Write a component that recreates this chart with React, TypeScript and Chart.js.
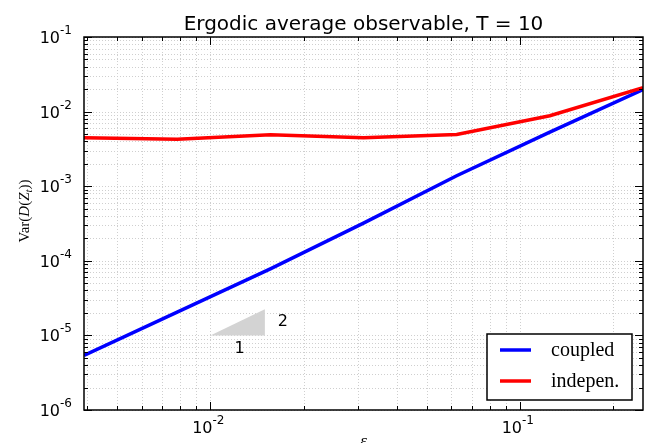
import React, { useEffect, useRef } from "react";
import { Chart, registerables } from "chart.js";

Chart.register(...registerables);

// ---- data ----
const epsilons = [0.00390625, 0.0078125, 0.015625, 0.03125, 0.0625, 0.125, 0.25];
const coupledVar = [5.4e-6, 2.05e-5, 7.8e-5, 3.2e-4, 1.38e-3, 5.3e-3, 1.97e-2];
const indepVar = [4.45e-3, 4.25e-3, 4.9e-3, 4.45e-3, 4.95e-3, 8.8e-3, 2.1e-2];
const seriesLabels = ["coupled", "indepen."];
const seriesColors = ["#0000ff", "#ff0000"];
const triangleX = [0.01, 0.015, 0.015, 0.01];
const triangleY = [1e-5, 1e-5, 2.25e-5, 1e-5];
const triangleLabels = ["1", "2"];
const xMajorExps = [-2, -1];
const yMajorExps = [-6, -5, -4, -3, -2, -1];
const yRange = [1e-6, 1e-1];
const titleText = "Ergodic average observable, T = 10";

const SANS = '"DejaVu Sans"';
const SERIF = '"Liberation Serif"';

function gridValues(min: number, max: number): number[] {
  const out: number[] = [];
  for (let e = -9; e <= 1; e++) {
    for (let m = 1; m <= 9; m++) {
      const v = m * Math.pow(10, e);
      if (v >= min * 0.9999 && v <= max * 1.0001) out.push(v);
    }
  }
  return out;
}

function drawPow(ctx: CanvasRenderingContext2D, exp: number, x: number, baseline: number, align: "right" | "center") {
  const base = "10";
  const sup = "-" + Math.abs(exp);
  ctx.font = `16px ${SANS}`;
  const wb = ctx.measureText(base).width;
  ctx.font = `12px ${SANS}`;
  const ws = ctx.measureText(sup).width;
  const total = wb + ws;
  const start = align === "right" ? x - total : x - total / 2;
  ctx.textAlign = "left";
  ctx.textBaseline = "alphabetic";
  ctx.font = `16px ${SANS}`;
  ctx.fillText(base, start, baseline);
  ctx.font = `12px ${SANS}`;
  ctx.fillText(sup, start + wb, baseline - 9);
}

const customPlugin = {
  id: "customDecor",
  beforeDatasetsDraw(chart: any) {
    const { ctx, chartArea: ca, scales } = chart;
    const xs = scales.x;
    const ys = scales.y;
    ctx.save();
    ctx.strokeStyle = "#cfcfcf";
    ctx.lineWidth = 1;
    ctx.setLineDash([1, 2]);
    for (const v of gridValues(xs.min, xs.max)) {
      const px = Math.round(xs.getPixelForValue(v)) + 0.5;
      ctx.beginPath();
      ctx.moveTo(px, ca.top);
      ctx.lineTo(px, ca.bottom);
      ctx.stroke();
    }
    for (const v of gridValues(ys.min, ys.max)) {
      const py = Math.round(ys.getPixelForValue(v)) + 0.5;
      ctx.beginPath();
      ctx.moveTo(ca.left, py);
      ctx.lineTo(ca.right, py);
      ctx.stroke();
    }
    ctx.restore();
  },
  afterDatasetsDraw(chart: any) {
    const { ctx, chartArea: ca, scales } = chart;
    const xs = scales.x;
    const ys = scales.y;
    ctx.save();
    // tick marks (inside, all four sides)
    ctx.strokeStyle = "#000";
    ctx.lineWidth = 1;
    ctx.setLineDash([]);
    for (const v of gridValues(xs.min, xs.max)) {
      const major = Math.abs(Math.log10(v) - Math.round(Math.log10(v))) < 1e-9;
      const len = major ? 8 : 4;
      const px = Math.round(xs.getPixelForValue(v)) + 0.5;
      ctx.beginPath();
      ctx.moveTo(px, ca.bottom);
      ctx.lineTo(px, ca.bottom - len);
      ctx.moveTo(px, ca.top);
      ctx.lineTo(px, ca.top + len);
      ctx.stroke();
    }
    for (const v of gridValues(ys.min, ys.max)) {
      const major = Math.abs(Math.log10(v) - Math.round(Math.log10(v))) < 1e-9;
      const len = major ? 8 : 4;
      const py = Math.round(ys.getPixelForValue(v)) + 0.5;
      ctx.beginPath();
      ctx.moveTo(ca.left, py);
      ctx.lineTo(ca.left + len, py);
      ctx.moveTo(ca.right, py);
      ctx.lineTo(ca.right - len, py);
      ctx.stroke();
    }
    // frame
    ctx.lineWidth = 1.5;
    ctx.strokeRect(ca.left, ca.top, ca.right - ca.left, ca.bottom - ca.top);

    // tick labels
    ctx.fillStyle = "#000";
    for (const e of yMajorExps) {
      const py = ys.getPixelForValue(Math.pow(10, e));
      drawPow(ctx, e, ca.left - 12, py + 6, "right");
    }
    for (const e of xMajorExps) {
      const px = xs.getPixelForValue(Math.pow(10, e));
      drawPow(ctx, e, px - 2, ca.bottom + 23, "center");
    }

    // slope triangle labels
    ctx.font = `16px ${SANS}`;
    ctx.textAlign = "center";
    ctx.textBaseline = "middle";
    const bx = xs.getPixelForValue(Math.sqrt(triangleX[0] * triangleX[1]));
    const by = ys.getPixelForValue(triangleY[0]);
    ctx.fillText(triangleLabels[0], bx + 2, by + 13);
    const rx = xs.getPixelForValue(triangleX[1]);
    const ry = ys.getPixelForValue(Math.sqrt(triangleY[1] * triangleY[2]));
    ctx.fillText(triangleLabels[1], rx + 18, ry);

    // title
    ctx.font = `20px ${SANS}`;
    ctx.textAlign = "center";
    ctx.textBaseline = "alphabetic";
    ctx.fillText(titleText, (ca.left + ca.right) / 2, 30);

    // x label
    ctx.font = `italic 17px ${SERIF}`;
    ctx.fillText("ε", (ca.left + ca.right) / 2, 446);

    // y label (rotated mathtext)
    ctx.save();
    ctx.translate(29, 211);
    ctx.rotate(-Math.PI / 2);
    const fs = 15;
    const pieces = [
      { t: "Var", f: `${fs}px ${SERIF}`, dy: 0 },
      { t: "(", f: `${fs}px ${SERIF}`, dy: 0 },
      { t: "D", f: `italic ${fs}px ${SERIF}`, dy: 0 },
      { t: "(", f: `${fs}px ${SERIF}`, dy: 0 },
      { t: "Z", f: `italic ${fs}px ${SERIF}`, dy: 0 },
      { t: "t", f: `italic ${Math.round(fs * 0.7)}px ${SERIF}`, dy: 3 },
      { t: "))", f: `${fs}px ${SERIF}`, dy: 0 },
    ];
    let tw = 0;
    const widths = pieces.map((p) => {
      ctx.font = p.f;
      const w = ctx.measureText(p.t).width;
      tw += w;
      return w;
    });
    let cx = -tw / 2;
    ctx.textAlign = "left";
    pieces.forEach((p, i) => {
      ctx.font = p.f;
      ctx.fillText(p.t, cx, p.dy);
      cx += widths[i];
    });
    ctx.restore();

    // legend
    const lx0 = 487, ly0 = 334, lx1 = 632, ly1 = 400;
    ctx.fillStyle = "#fff";
    ctx.fillRect(lx0, ly0, lx1 - lx0, ly1 - ly0);
    ctx.strokeStyle = "#000";
    ctx.lineWidth = 1.5;
    ctx.strokeRect(lx0, ly0, lx1 - lx0, ly1 - ly0);
    ctx.font = `20px ${SERIF}`;
    ctx.textAlign = "left";
    ctx.textBaseline = "alphabetic";
    seriesLabels.forEach((lab, i) => {
      const y = 350 + i * 31;
      ctx.strokeStyle = seriesColors[i];
      ctx.lineWidth = 3.5;
      ctx.beginPath();
      ctx.moveTo(500, y);
      ctx.lineTo(531, y);
      ctx.stroke();
      ctx.fillStyle = "#000";
      ctx.fillText(lab, 551, y + 6);
    });
    ctx.restore();
  },
};

export default function App() {
  const canvasRef = useRef<HTMLCanvasElement | null>(null);

  useEffect(() => {
    const canvas = canvasRef.current;
    if (!canvas) return;
    const chart = new Chart(canvas, {
      type: "line",
      data: {
        datasets: [
          {
            label: seriesLabels[0],
            data: epsilons.map((x, i) => ({ x, y: coupledVar[i] })),
            borderColor: seriesColors[0],
            borderWidth: 3.5,
            pointRadius: 0,
            tension: 0,
            fill: false,
            order: 1,
          },
          {
            label: seriesLabels[1],
            data: epsilons.map((x, i) => ({ x, y: indepVar[i] })),
            borderColor: seriesColors[1],
            borderWidth: 3.5,
            pointRadius: 0,
            tension: 0,
            fill: false,
            order: 0,
          },
          {
            label: "slope",
            data: triangleX.map((x, i) => ({ x, y: triangleY[i] })),
            borderWidth: 0,
            borderColor: "rgba(0,0,0,0)",
            backgroundColor: "#d3d3d3",
            pointRadius: 0,
            tension: 0,
            fill: "shape",
            order: 2,
          },
        ],
      },
      options: {
        responsive: false,
        animation: false,
        devicePixelRatio: 1,
        layout: { padding: { left: 84, right: 4, top: 37, bottom: 33 } },
        plugins: {
          legend: { display: false },
          tooltip: { enabled: false },
          title: { display: false },
        },
        scales: {
          x: {
            type: "logarithmic",
            min: epsilons[0],
            max: epsilons[epsilons.length - 1],
            display: false,
          },
          y: {
            type: "logarithmic",
            min: yRange[0],
            max: yRange[1],
            display: false,
          },
        },
      } as any,
      plugins: [customPlugin as any],
    });
    return () => chart.destroy();
  }, []);

  return (
    <div style={{ position: "fixed", left: 0, top: 0, width: 647, height: 443, background: "#fff" }}>
      <canvas ref={canvasRef} width={647} height={443} style={{ width: 647, height: 443, display: "block" }} />
    </div>
  );
}
